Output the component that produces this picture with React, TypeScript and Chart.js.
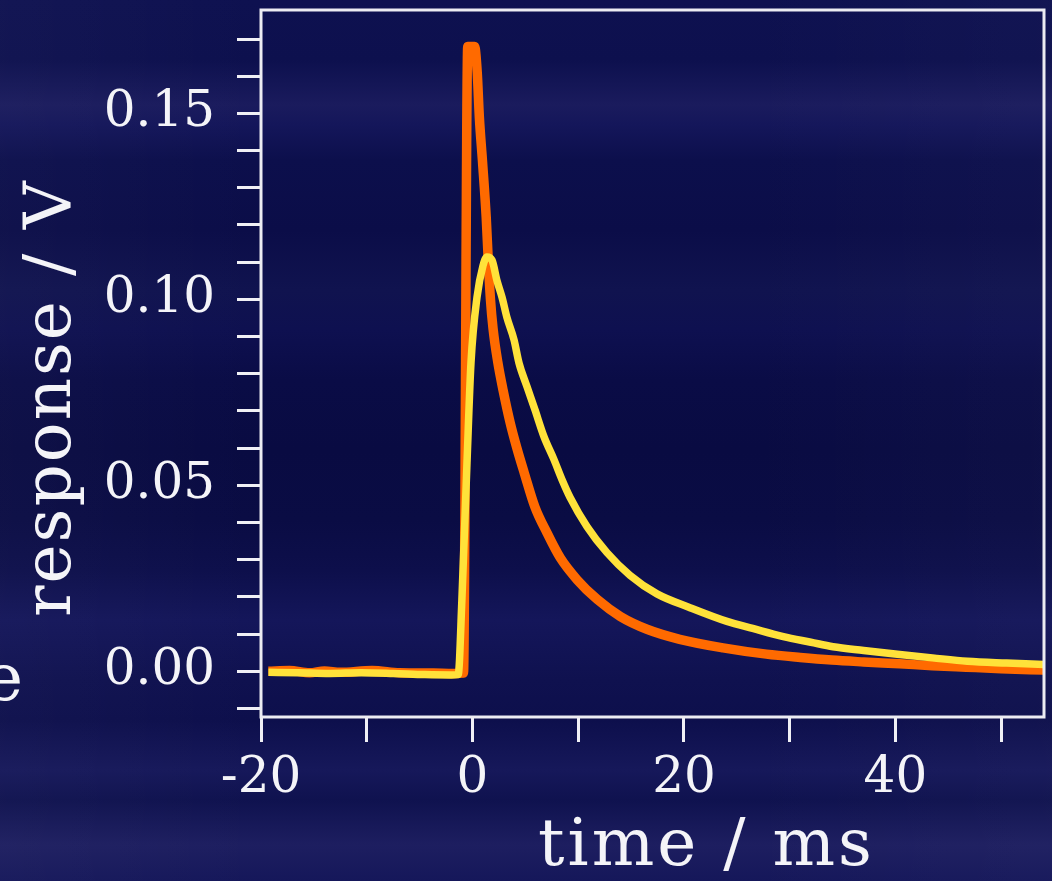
import React, { useEffect, useRef } from 'react';
import { Chart, registerables } from 'chart.js';

Chart.register(...registerables);

// ---- data (time in ms, response in V) ----
const orangeTimes = [
  -19.3, -17.3, -15.4, -14.0, -12.5, -9.5, -6.9, -3.7, -1.8, -0.85,
  -0.45, 0.2, 0.45, 0.65, 0.95, 1.3, 1.5, 1.7, 1.95, 2.4, 2.9, 3.55, 4.2, 4.9,
  5.9, 7.05, 8.3, 9.9, 11.8, 14.0, 16.5, 19.6, 23.7, 27.8, 31.0, 34.0, 37.0,
  40.4, 43.5, 46.7, 50.0, 54.1,
];
const orangeValues = [
  0.0000, 0.0002, -0.0004, 0.0001, -0.0003, 0.0002, -0.0004, -0.0005, -0.0006, -0.0005,
  0.168, 0.168, 0.161, 0.149, 0.137, 0.122, 0.110, 0.100, 0.092, 0.083, 0.0755, 0.067, 0.060, 0.0533,
  0.0442, 0.0372, 0.0305, 0.0246, 0.0193, 0.0147, 0.0113, 0.0086, 0.0063, 0.0046, 0.0037, 0.0030, 0.0025,
  0.0020, 0.0015, 0.0011, 0.0007, 0.0003,
];
const yellowTimes = [
  -19.3, -16.5, -13.5, -10.5, -7.5, -4.5, -2.0, -1.35,
  -1.0, -0.52, -0.14, 0.43, 0.99, 1.37, 1.85, 2.32, 2.8, 3.26, 3.93, 4.4, 5.16,
  5.91, 6.76, 7.71, 8.47, 9.22, 10.83, 12.72, 14.9, 17.45, 20.57, 24.07, 26.5,
  29.4, 32.0, 34.1, 37.0, 40.4, 43.5, 46.8, 50.5, 54.1,
];
const yellowValues = [
  -0.0003, -0.0004, -0.0006, -0.0004, -0.0006, -0.0009, -0.0010, -0.0009,
  0.0193, 0.056, 0.083, 0.1006, 0.109, 0.1114, 0.1105, 0.105, 0.1005, 0.0951, 0.0891, 0.0829, 0.0765,
  0.0703, 0.0631, 0.0569, 0.0515, 0.0468, 0.0389, 0.0319, 0.0258, 0.0208, 0.0171, 0.0134, 0.0115,
  0.0093, 0.0078, 0.0066, 0.0056, 0.0045, 0.0036, 0.0027, 0.0022, 0.0018,
];

const xLabeledTicks = [-20, 0, 20, 40];
const yLabeledTicks = [0.0, 0.05, 0.1, 0.15];
const xTitle = 'time / ms';
const yTitle = 'response / V';
const clippedLetter = 'e';

const FONT = '"DejaVu Serif", "Liberation Serif", serif';
const WHITE = '#f4f4f8';

const framePlugin = {
  id: 'frameAndTitles',
  afterDatasetsDraw(chart: any) {
    const { ctx, chartArea: a } = chart;
    ctx.save();
    ctx.strokeStyle = '#ececf2';
    ctx.lineWidth = 3;
    ctx.strokeRect(a.left, a.top, a.right - a.left, a.bottom - a.top);
    ctx.restore();
  },
  afterDraw(chart: any) {
    const { ctx } = chart;
    ctx.save();
    ctx.fillStyle = WHITE;
    ctx.textBaseline = 'alphabetic';
    ctx.textAlign = 'left';
    ctx.font = `66px ${FONT}`;
    (ctx as any).letterSpacing = '3px';
    ctx.fillText(xTitle, 538, 865);
    ctx.save();
    ctx.translate(70, 617);
    ctx.rotate(-Math.PI / 2);
    (ctx as any).letterSpacing = '2px';
    ctx.fillText(yTitle, 0, 0);
    ctx.restore();
    (ctx as any).letterSpacing = '0px';
    ctx.textAlign = 'right';
    ctx.fillText(clippedLetter, 23, 700);
    ctx.restore();
  },
};

function zeroPad(scale: any) {
  scale.paddingTop = 0;
  scale.paddingBottom = 0;
  scale.paddingLeft = 0;
  scale.paddingRight = 0;
}

export default function App() {
  const ref = useRef<HTMLCanvasElement | null>(null);

  useEffect(() => {
    if (!ref.current) return;
    const chart = new Chart(ref.current, {
      type: 'line',
      data: {
        datasets: [
          {
            label: 'yellow',
            data: yellowTimes.map((t, i) => ({ x: t, y: yellowValues[i] })),
            borderColor: '#ffe23a',
            borderWidth: 7.5,
            pointRadius: 0,
            cubicInterpolationMode: 'monotone',
            fill: false,
          },
          {
            label: 'orange',
            data: orangeTimes.map((t, i) => ({ x: t, y: orangeValues[i] })),
            borderColor: '#ff6a00',
            borderWidth: 9.5,
            pointRadius: 0,
            cubicInterpolationMode: 'monotone',
            fill: false,
          },
        ],
      },
      options: {
        animation: false,
        responsive: false,
        devicePixelRatio: 1,
        parsing: false as any,
        layout: { padding: { left: 0, top: 10, right: 8, bottom: 0 } },
        plugins: {
          legend: { display: false },
          tooltip: { enabled: false },
          title: { display: false },
        },
        scales: {
          x: {
            type: 'linear',
            min: -20,
            max: 54.05,
            border: { display: false },
            grid: {
              drawOnChartArea: false,
              drawTicks: true,
              tickLength: 25,
              color: '#f0f0f5',
              lineWidth: 3,
            },
            ticks: {
              stepSize: 10,
              includeBounds: false,
              autoSkip: false,
              maxRotation: 0,
              minRotation: 0,
              padding: 7,
              color: WHITE,
              font: { family: FONT, size: 50 },
              callback: (v: any) => (xLabeledTicks.some((t) => Math.abs(t - v) < 1e-6) ? String(v) : ''),
            },
            afterFit: (s: any) => {
              s.height = 164;
              zeroPad(s);
            },
          },
          y: {
            type: 'linear',
            min: -0.0123,
            max: 0.1778,
            border: { display: false },
            grid: {
              drawOnChartArea: false,
              drawTicks: true,
              tickLength: 24,
              color: '#f0f0f5',
              lineWidth: 3,
            },
            ticks: {
              stepSize: 0.01,
              includeBounds: false,
              autoSkip: false,
              padding: 22,
              color: WHITE,
              font: { family: FONT, size: 50 },
              callback: (v: any) =>
                yLabeledTicks.some((t) => Math.abs(t - v) < 1e-6) ? Number(v).toFixed(2) : '',
            },
            afterFit: (s: any) => {
              s.width = 261;
              zeroPad(s);
            },
          },
        },
      },
      plugins: [framePlugin],
    });
    return () => chart.destroy();
  }, []);

  const bg = [
    'linear-gradient(90deg, rgba(255,255,255,0.025) 0%, rgba(0,0,0,0) 25%, rgba(0,0,0,0) 70%, rgba(255,255,255,0.02) 100%)',
    'linear-gradient(180deg, #0e1150 0px, #0d104e 60px, #1a1b5d 105px, #14165a 125px, #0c0f4c 160px, #0b0d48 230px, #10134f 290px, #0e1050 330px, #0a0c46 380px, #090b42 450px, #0a0c44 520px, #0d0f4b 570px, #14165a 620px, #0f114f 680px, #0d0f4c 720px, #16185a 770px, #0f124f 800px, #1d1e60 845px, #15175a 881px)',
  ].join(', ');

  return (
    <div
      style={{
        position: 'fixed',
        left: 0,
        top: 0,
        width: 1052,
        height: 881,
        overflow: 'hidden',
        background: bg,
      }}
    >
      <canvas ref={ref} width={1052} height={881} style={{ display: 'block', width: 1052, height: 881 }} />
    </div>
  );
}
